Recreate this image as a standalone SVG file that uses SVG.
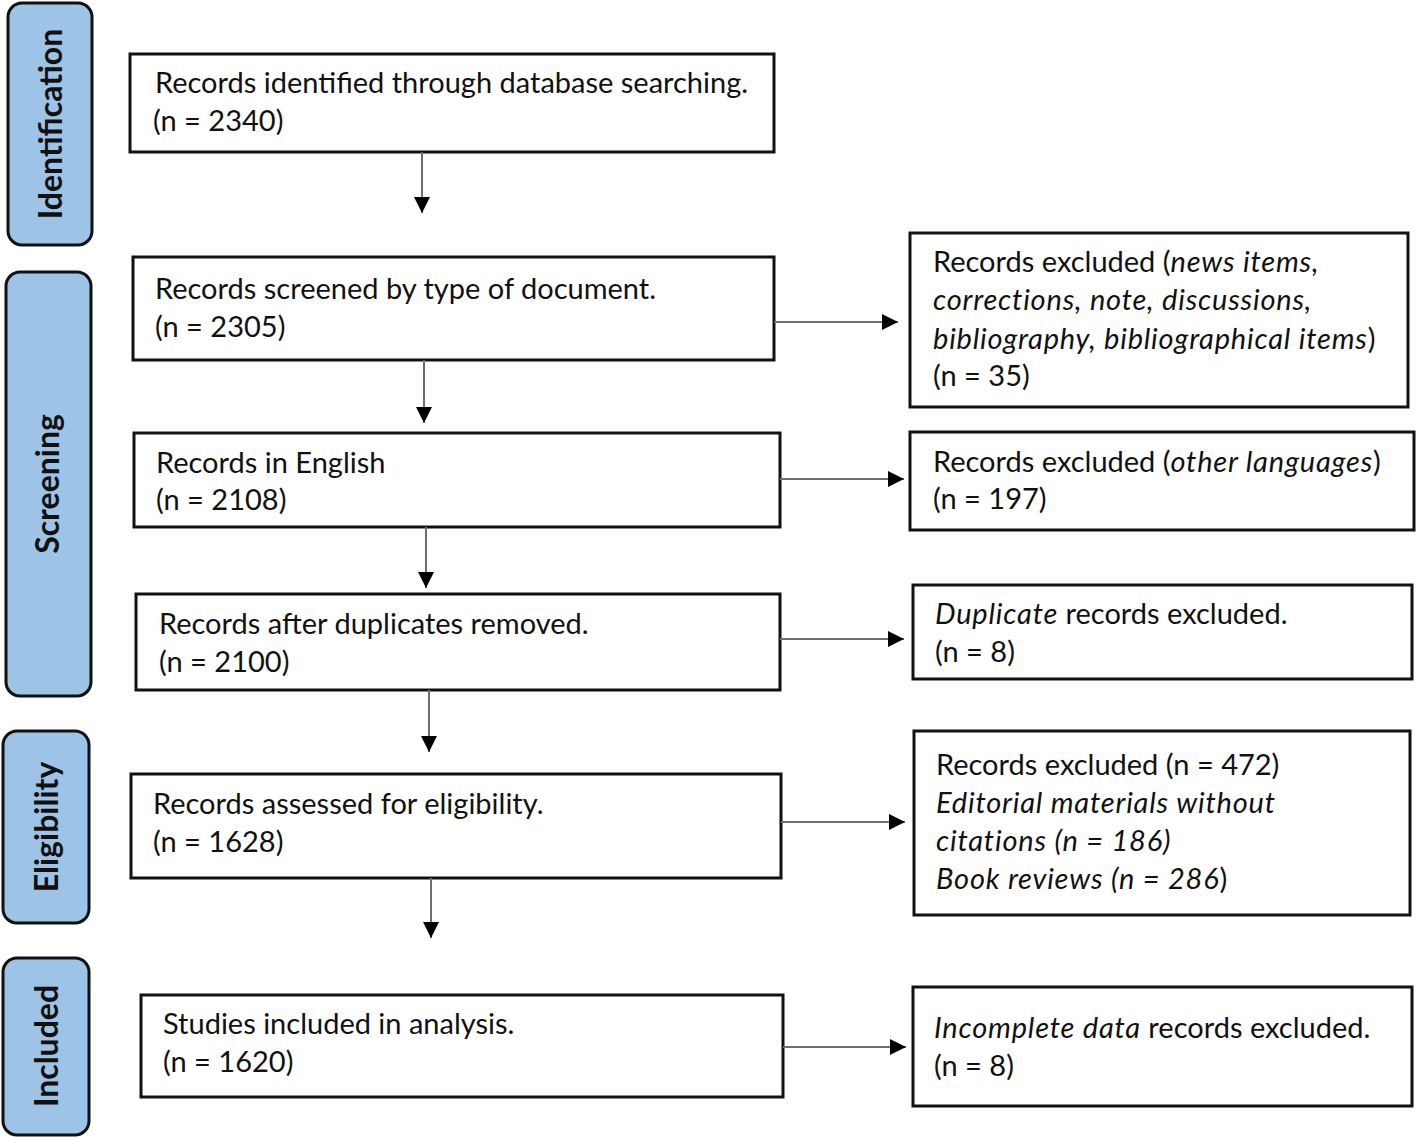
<svg xmlns="http://www.w3.org/2000/svg" width="1416" height="1138" viewBox="0 0 1416 1138">
<defs>
<marker id="ah" viewBox="0 0 16 16" refX="16" refY="8" markerWidth="16" markerHeight="16" markerUnits="userSpaceOnUse" orient="auto">
<path d="M0,0 L16,8 L0,16 Z" fill="#000"/>
</marker>
<style>
.phase{fill:#9DC3E6;stroke:#111;stroke-width:3}
.box{fill:#fff;stroke:#111;stroke-width:3}
.t{font-family:Lato,"Liberation Sans",sans-serif;font-size:29px;fill:#111}
.pt{font-family:Lato,"Liberation Sans",sans-serif;font-size:32px;font-weight:bold;fill:#111}
.i{font-style:italic;letter-spacing:0.8px}
.c{stroke:#6e6e6e;stroke-width:2;fill:none;marker-end:url(#ah)}
</style>
</defs>
<rect width="1416" height="1138" fill="#fff"/>
<g id="phase-identification"><rect class="phase" x="8" y="3" width="84" height="242" rx="14"/><text class="pt" transform="translate(62,124) rotate(-90)" text-anchor="middle">Identification</text></g>
<g id="phase-screening"><rect class="phase" x="6" y="272" width="85" height="424" rx="14"/><text class="pt" transform="translate(59,484) rotate(-90)" text-anchor="middle">Screening</text></g>
<g id="phase-eligibility"><rect class="phase" x="3" y="731" width="86" height="192" rx="14"/><text class="pt" transform="translate(58,827) rotate(-90)" text-anchor="middle">Eligibility</text></g>
<g id="phase-included"><rect class="phase" x="3" y="958" width="86" height="177" rx="14"/><text class="pt" transform="translate(58,1046) rotate(-90)" text-anchor="middle">Included</text></g>

<g id="n1"><rect class="box" x="130" y="54" width="644" height="98"/><text class="t" x="155" y="93">Records identified through database searching.</text><text class="t" x="153" y="131">(n = 2340)</text></g>
<g id="n2"><rect class="box" x="133" y="257" width="641" height="103"/><text class="t" x="155" y="299">Records screened by type of document.</text><text class="t" x="155" y="337">(n = 2305)</text></g>
<g id="n3"><rect class="box" x="134" y="433" width="646" height="94"/><text class="t" x="156" y="473">Records in English</text><text class="t" x="156" y="510">(n = 2108)</text></g>
<g id="n4"><rect class="box" x="136" y="594" width="644" height="96"/><text class="t" x="159" y="634">Records after duplicates removed.</text><text class="t" x="159" y="672">(n = 2100)</text></g>
<g id="n5"><rect class="box" x="131" y="774" width="650" height="104"/><text class="t" x="153" y="814">Records assessed for eligibility.</text><text class="t" x="153" y="852">(n = 1628)</text></g>
<g id="n6"><rect class="box" x="141" y="995" width="642" height="102"/><text class="t" x="163" y="1034">Studies included in analysis.</text><text class="t" x="163" y="1072">(n = 1620)</text></g>

<g id="e1"><rect class="box" x="910" y="233" width="498" height="174"/><text class="t" x="933" y="272">Records excluded (<tspan class="i">news items,</tspan></text><text class="t i" x="933" y="310">corrections, note, discussions,</text><text class="t" x="933" y="349"><tspan class="i">bibliography, bibliographical items</tspan>)</text><text class="t" x="933" y="386">(n = 35)</text></g>
<g id="e2"><rect class="box" x="910" y="432" width="504" height="98"/><text class="t" x="933" y="472">Records excluded (<tspan class="i">other languages</tspan>)</text><text class="t" x="933" y="509">(n = 197)</text></g>
<g id="e3"><rect class="box" x="913" y="585" width="499" height="94"/><text class="t" x="935" y="624"><tspan class="i">Duplicate</tspan> records excluded.</text><text class="t" x="935" y="662">(n = 8)</text></g>
<g id="e4"><rect class="box" x="914" y="731" width="496" height="184"/><text class="t" x="936" y="775">Records excluded (n = 472)</text><text class="t i" x="936" y="813">Editorial materials without</text><text class="t i" x="936" y="851">citations (n = 186)</text><text class="t" x="936" y="889"><tspan class="i">Book reviews (n = 286</tspan>)</text></g>
<g id="e5"><rect class="box" x="913" y="987" width="499" height="119"/><text class="t" x="934" y="1038"><tspan class="i">Incomplete data</tspan> records excluded.</text><text class="t" x="934" y="1076">(n = 8)</text></g>

<g id="connectors">
<path class="c" d="M422,152 V213"/>
<path class="c" d="M424,360 V423"/>
<path class="c" d="M426,527 V588"/>
<path class="c" d="M429,690 V752"/>
<path class="c" d="M431,878 V938"/>
<path class="c" d="M774,322 H898"/>
<path class="c" d="M780,479 H904"/>
<path class="c" d="M780,639 H904"/>
<path class="c" d="M781,822 H905"/>
<path class="c" d="M783,1047 H906"/>
</g>
</svg>
